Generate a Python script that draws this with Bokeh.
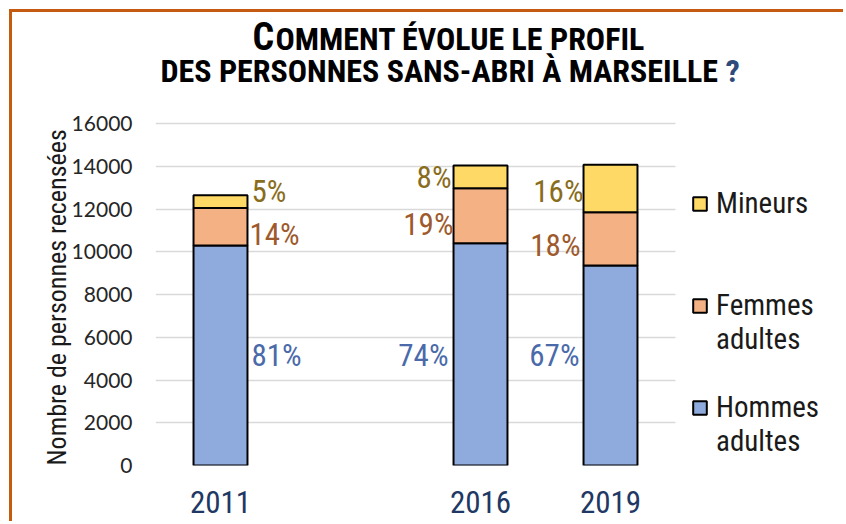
from bokeh.plotting import figure
from bokeh.models import (Range1d, ColumnDataSource, Legend, LegendItem, Title, Label,
                          BoxAnnotation)
from bokeh.core.properties import value
from bokeh.embed import file_html
from bokeh.resources import INLINE

# ---------------- data ----------------
categories = ["2011", " ", "2016", "2019"]      # one empty slot between 2011 and 2016
years = ["2011", "2016", "2019"]
hommes = [10290, 10400, 9360]
femmes = [1760, 2570, 2490]
mineurs = [590, 1065, 2215]
pct_hommes = ["81%", "74%", "67%"]
pct_femmes = ["14%", "19%", "18%"]
pct_mineurs = ["5%", "8%", "16%"]
y_ticks = [0, 2000, 4000, 6000, 8000, 10000, 12000, 14000, 16000]
title_first = "C"
title_line1 = "OMMENT ÉVOLUE LE PROFIL"
title_line2 = "DES PERSONNES SANS-ABRI À MARSEILLE"
title_mark = "?"
y_label = "Nombre de personnes recensées"

# ---------------- layout / styles ----------------
W, H = 834, 512                 # canvas (page has 9px margin + 3px orange border)
LEFT, BOTTOM = 143, 59          # borders around the frame
SLOT = 130                      # px per category slot
GRID_H = 342                    # px from 0 to the top tick
FRAME_W, FRAME_H = W - LEFT, H - BOTTOM
NARROW = "Roboto Condensed, Liberation Sans Narrow, DejaVu Sans Condensed, Roboto"
C_HOM, C_FEM, C_MIN = "#8FAADC", "#F4B183", "#FFD966"
T_HOM, T_FEM, T_MIN = "#4A6AAA", "#9E5A2C", "#8A6D1C"

slot = {c: i + 0.5 for i, c in enumerate(categories)}
x_pos = [slot[y] for y in years]
x_end = FRAME_W / SLOT
y_end = y_ticks[-1] * FRAME_H / GRID_H

p = figure(x_range=Range1d(0, x_end), y_range=Range1d(0, y_end),
           width=W, height=H, output_backend="svg", toolbar_location=None,
           min_border_left=LEFT, min_border_right=0, min_border_top=0, min_border_bottom=BOTTOM,
           styles={"margin-left": "9px", "margin-top": "9px",
                   "border-left": "3px solid #C55A11", "border-top": "3px solid #C55A11"})
p.background_fill_color = "white"
p.border_fill_color = "white"
p.outline_line_color = None

p.xgrid.grid_line_color = None
p.ygrid.grid_line_color = "#D9D9D9"
p.ygrid.grid_line_width = 1.6

p.yaxis.ticker = y_ticks
p.yaxis.axis_line_color = None
p.yaxis.major_tick_line_color = None
p.yaxis.minor_tick_line_color = None
p.yaxis.major_tick_out = 0
p.yaxis.minor_tick_out = 0
p.yaxis.major_label_standoff = 23
p.yaxis.major_label_text_font = "Lato"
p.yaxis.major_label_text_font_size = "21px"
p.yaxis.major_label_text_color = "#262626"

p.xaxis.ticker = x_pos
p.xaxis.major_label_overrides = {x: y for x, y in zip(x_pos, years)}
p.xaxis.axis_line_color = None
p.xaxis.major_tick_line_color = None
p.xaxis.minor_tick_line_color = None
p.xaxis.major_tick_out = 0
p.xaxis.minor_tick_out = 0
p.xaxis.major_label_standoff = 25
p.xaxis.major_label_text_font = NARROW
p.xaxis.major_label_text_font_size = "31px"
p.xaxis.major_label_text_color = "#1F3864"

# y axis title, placed from the bottom of the frame upwards
p.add_layout(Title(text=y_label, align="left", offset=0, standoff=-6,
                   text_font=NARROW, text_font_size="26px", text_font_style="normal",
                   text_color="#1a1a1a"), "left")

src = ColumnDataSource(dict(x=x_pos, hommes=hommes, femmes=femmes, mineurs=mineurs))
r_hom, r_fem, r_min = p.vbar_stack(["hommes", "femmes", "mineurs"], x="x", width=0.415, source=src,
                                   fill_color=[C_HOM, C_FEM, C_MIN], line_color="black", line_width=2)

# percentage labels: y at segment middle, pixel nudges as style
x_nudge = {"2011": [31, 29, 31], "2016": [-32, -27, -29], "2019": [-31, -30, -27]}
y_nudge = {"2011": [0, 8, -10], "2016": [1, 9, 1], "2019": [-10, 7, 3]}
for i, yr in enumerate(years):
    mids = [hommes[i] / 2, hommes[i] + femmes[i] / 2, hommes[i] + femmes[i] + mineurs[i] / 2]
    texts = [pct_hommes[i], pct_femmes[i], pct_mineurs[i]]
    cols = [T_HOM, T_FEM, T_MIN]
    s = ColumnDataSource(dict(x=[x_pos[i]] * 3, y=mids, text=texts, xo=x_nudge[yr], yo=y_nudge[yr], c=cols))
    p.text(x="x", y="y", text="text", x_offset="xo", y_offset="yo", text_color="c", source=s,
           text_align="left" if i == 0 else "right", text_baseline="middle",
           text_font=value(NARROW), text_font_size="31px")

# the grid stops after the last category slot
p.add_layout(BoxAnnotation(left=len(categories), right=x_end, bottom=0, top=y_end,
                           fill_color="white", fill_alpha=1, line_alpha=0))

# chart title (positions are vertical centres, measured from the frame's bottom-left)
for txt, x, y, size, col in [(title_first, 97, 429, "38px", "black"),
                             (title_line1, 120, 426.5, "32px", "black"),
                             (title_line2, 5, 394.5, "32px", "black"),
                             (title_mark, 570, 394.5, "32px", "#2F4B7C")]:
    p.add_layout(Label(x=x, y=y, x_units="screen", y_units="screen", text=txt,
                       text_font=NARROW, text_font_size=size, text_font_style="bold",
                       text_color=col, text_baseline="middle"))

# legend (blank rows reproduce the spacing of the reference legend)
r_blank = p.vbar(x=[], top=[], width=0.1, fill_alpha=0, line_alpha=0)
items = [
    LegendItem(label="Mineurs", renderers=[r_min]),
    LegendItem(label=" ", renderers=[r_blank]),
    LegendItem(label=" ", renderers=[r_blank]),
    LegendItem(label="Femmes", renderers=[r_fem]),
    LegendItem(label="adultes", renderers=[r_blank]),
    LegendItem(label=" ", renderers=[r_blank]),
    LegendItem(label="Hommes", renderers=[r_hom]),
    LegendItem(label="adultes", renderers=[r_blank]),
]
legend = Legend(items=items, location=(536, 7), margin=0, padding=0, spacing=0,
                glyph_width=17, glyph_height=17, label_height=34, label_standoff=8,
                label_text_font=NARROW, label_text_font_size="29px", label_text_color="#1a1a1a",
                border_line_color=None, background_fill_alpha=0)
p.add_layout(legend)

open("out.html", "w").write(file_html(p, INLINE))
